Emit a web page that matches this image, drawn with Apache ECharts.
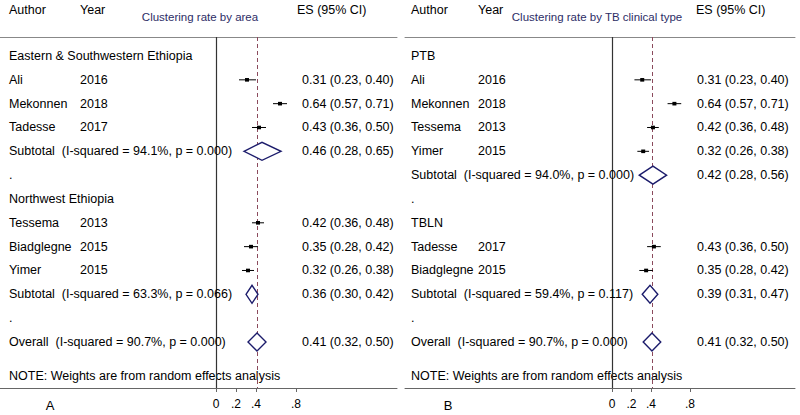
<!DOCTYPE html>
<html><head><meta charset="utf-8">
<script src="https://cdn.jsdelivr.net/npm/echarts@6/dist/echarts.min.js"></script>
<style>html,body{margin:0;padding:0;background:#fff}#c{width:800px;height:415px}</style>
</head><body><div id="c"></div>
<script>
// ---------- Data: panel A (by area) ----------
const titleA = "Clustering rate by area";
const labelsA = ["Eastern & Southwestern Ethiopia","Ali","Mekonnen","Tadesse","Subtotal  (I-squared = 94.1%, p = 0.000)",".","Northwest Ethiopia","Tessema","Biadglegne","Yimer","Subtotal  (I-squared = 63.3%, p = 0.066)",".","Overall  (I-squared = 90.7%, p = 0.000)"];
const yearsA  = ["","2016","2018","2017","","","","2013","2015","2015","","",""];
const esA     = [null,0.31,0.64,0.43,0.46,null,null,0.42,0.35,0.32,0.36,null,0.41];
const loA     = [null,0.23,0.57,0.36,0.28,null,null,0.36,0.28,0.26,0.30,null,0.32];
const hiA     = [null,0.40,0.71,0.50,0.65,null,null,0.48,0.42,0.38,0.42,null,0.50];
const kindA   = ["group","study","study","study","pooled","gap","group","study","study","study","pooled","gap","pooled"];

// ---------- Data: panel B (by TB clinical type) ----------
const titleB = "Clustering rate by TB clinical type";
const labelsB = ["PTB","Ali","Mekonnen","Tessema","Yimer","Subtotal  (I-squared = 94.0%, p = 0.000)",".","TBLN","Tadesse","Biadglegne","Subtotal  (I-squared = 59.4%, p = 0.117)",".","Overall  (I-squared = 90.7%, p = 0.000)"];
const yearsB  = ["","2016","2018","2013","2015","","","","2017","2015","","",""];
const esB     = [null,0.31,0.64,0.42,0.32,0.42,null,null,0.43,0.35,0.39,null,0.41];
const loB     = [null,0.23,0.57,0.36,0.26,0.28,null,null,0.36,0.28,0.31,null,0.32];
const hiB     = [null,0.40,0.71,0.48,0.38,0.56,null,null,0.50,0.42,0.47,null,0.50];
const kindB   = ["group","study","study","study","study","pooled","gap","group","study","study","pooled","gap","pooled"];

const overallES = 0.41;
const tickValues = [0, 0.2, 0.4, 0.8];
const tickLabels = ["0", ".2", ".4", ".8"];
const headAuthor = "Author", headYear = "Year", headES = "ES (95% CI)";
const noteText = "NOTE: Weights are from random effects analysis";

// ---------- Layout ----------
const FONT = '"Liberation Sans", Arial, Helvetica, sans-serif';
const GRID_TOP = 37, GRID_BOTTOM_Y = 388, H = 415;
const ROW0_Y = 56, ROW_STEP = 23.83;
const yMin = (GRID_TOP - ROW0_Y) / ROW_STEP;
const yMax = (GRID_BOTTOM_Y - ROW0_Y) / ROW_STEP;

const panels = [
  {labels:labelsA, years:yearsA, es:esA, lo:loA, hi:hiA, kind:kindA, title:titleA, letter:"A",
   left:0, right:397, zero:216, ppu:100, authorX:9, yearX:80, esX:302, headESX:297, titleX:200, letterX:50},
  {labels:labelsB, years:yearsB, es:esB, lo:loB, hi:hiB, kind:kindB, title:titleB, letter:"B",
   left:405, right:795, zero:612, ppu:97.5, authorX:411, yearX:478, esX:697, headESX:696, titleX:597, letterX:448}
];

const fmt = v => v.toFixed(2);
const NAVY = "#1b1b6b";

const grids = [], xAxes = [], yAxes = [], series = [], graphics = [];

panels.forEach((p, gi) => {
  grids.push({left:p.left, width:p.right - p.left, top:GRID_TOP, bottom:H - GRID_BOTTOM_Y});
  const xmin = (p.left - p.zero) / p.ppu, xmax = (p.right - p.zero) / p.ppu;
  xAxes.push({
    type:'value', gridIndex:gi, position:'bottom', min:xmin, max:xmax,
    axisLine:{show:true, onZero:false, lineStyle:{color:'#666', width:1}},
    axisTick:{show:true, customValues:tickValues, length:4, lineStyle:{color:'#666'}},
    axisLabel:{show:true, customValues:tickValues, margin:10, color:'#000', fontSize:12, fontFamily:FONT,
      formatter: v => { const k = tickValues.findIndex(t => Math.abs(t - v) < 1e-9); return k >= 0 ? tickLabels[k] : ''; }},
    splitLine:{show:false}
  });
  xAxes.push({
    type:'value', gridIndex:gi, position:'top', min:xmin, max:xmax,
    axisLine:{show:true, onZero:false, lineStyle:{color:'#888', width:1}},
    axisTick:{show:false}, axisLabel:{show:false}, splitLine:{show:false}
  });
  yAxes.push({
    type:'value', gridIndex:gi, inverse:true, min:yMin, max:yMax,
    axisLine:{show:false}, axisTick:{show:false}, axisLabel:{show:false}, splitLine:{show:false}
  });

  const rows = p.labels.map((_, i) => [p.es[i] == null ? 0 : p.es[i], i]);

  // reference lines (zero solid, overall dashed)
  series.push({
    type:'line', xAxisIndex:gi*2, yAxisIndex:gi, data:[], silent:true,
    markLine:{symbol:'none', silent:true, label:{show:false}, animation:false,
      data:[
        {xAxis:0, lineStyle:{color:'#333', width:1.2, type:'solid'}},
        {xAxis:overallES, lineStyle:{color:'#8b4a5c', width:1, type:[4,3]}}
      ]}
  });

  series.push({
    type:'custom', xAxisIndex:gi*2, yAxisIndex:gi, clip:false, animation:false,
    data:rows, encode:{x:0, y:1},
    renderItem:(params, api) => {
      const i = api.value(1);
      const y = api.coord([0, i])[1];
      const kids = [];
      const txt = (x, text) => ({type:'text', style:{x:x, y:y, text:text, font:'12.5px ' + FONT, fill:'#000', align:'left', verticalAlign:'middle'}});
      kids.push(txt(p.authorX, p.labels[i]));
      if (p.years[i]) kids.push(txt(p.yearX, p.years[i]));
      if (p.es[i] != null) {
        kids.push(txt(p.esX, fmt(p.es[i]) + " (" + fmt(p.lo[i]) + ", " + fmt(p.hi[i]) + ")"));
        const xl = api.coord([p.lo[i], i])[0], xh = api.coord([p.hi[i], i])[0], xe = api.coord([p.es[i], i])[0];
        if (p.kind[i] === 'study') {
          kids.push({type:'line', shape:{x1:xl, y1:y, x2:xh, y2:y}, style:{stroke:'#000', lineWidth:1}});
          kids.push({type:'rect', shape:{x:xe - 2, y:y - 1.8, width:4, height:3.6}, style:{fill:'#000'}});
        } else {
          kids.push({type:'polygon', shape:{points:[[xl, y],[xe, y - 9],[xh, y],[xe, y + 9]]},
            style:{fill:'#fff', stroke:NAVY, lineWidth:1.4}});
        }
      }
      return {type:'group', children:kids};
    },
    z:5
  });

  const headStyle = (x, y, text, extra) => ({type:'text', x:x, y:y, style:Object.assign({text:text, font:'12.5px ' + FONT, fill:'#000', verticalAlign:'middle', align:'left'}, extra || {})});
  graphics.push(headStyle(p.authorX, 10, headAuthor));
  graphics.push(headStyle(p.yearX, 10, headYear));
  graphics.push(headStyle(p.headESX, 10, headES));
  graphics.push(headStyle(p.titleX, 17, p.title, {align:'center', fill:'#2d2d66', font:'11.5px ' + FONT}));
  graphics.push(headStyle(p.authorX, 376, noteText));
  graphics.push(headStyle(p.letterX, 405, p.letter, {align:'center', font:'13px ' + FONT}));
});

const chart = echarts.init(document.getElementById('c'), null, {renderer:'svg'});
chart.setOption({
  animation:false,
  backgroundColor:'#fff',
  grid:grids, xAxis:xAxes, yAxis:yAxes, series:series,
  graphic:graphics
});
</script></body></html>
